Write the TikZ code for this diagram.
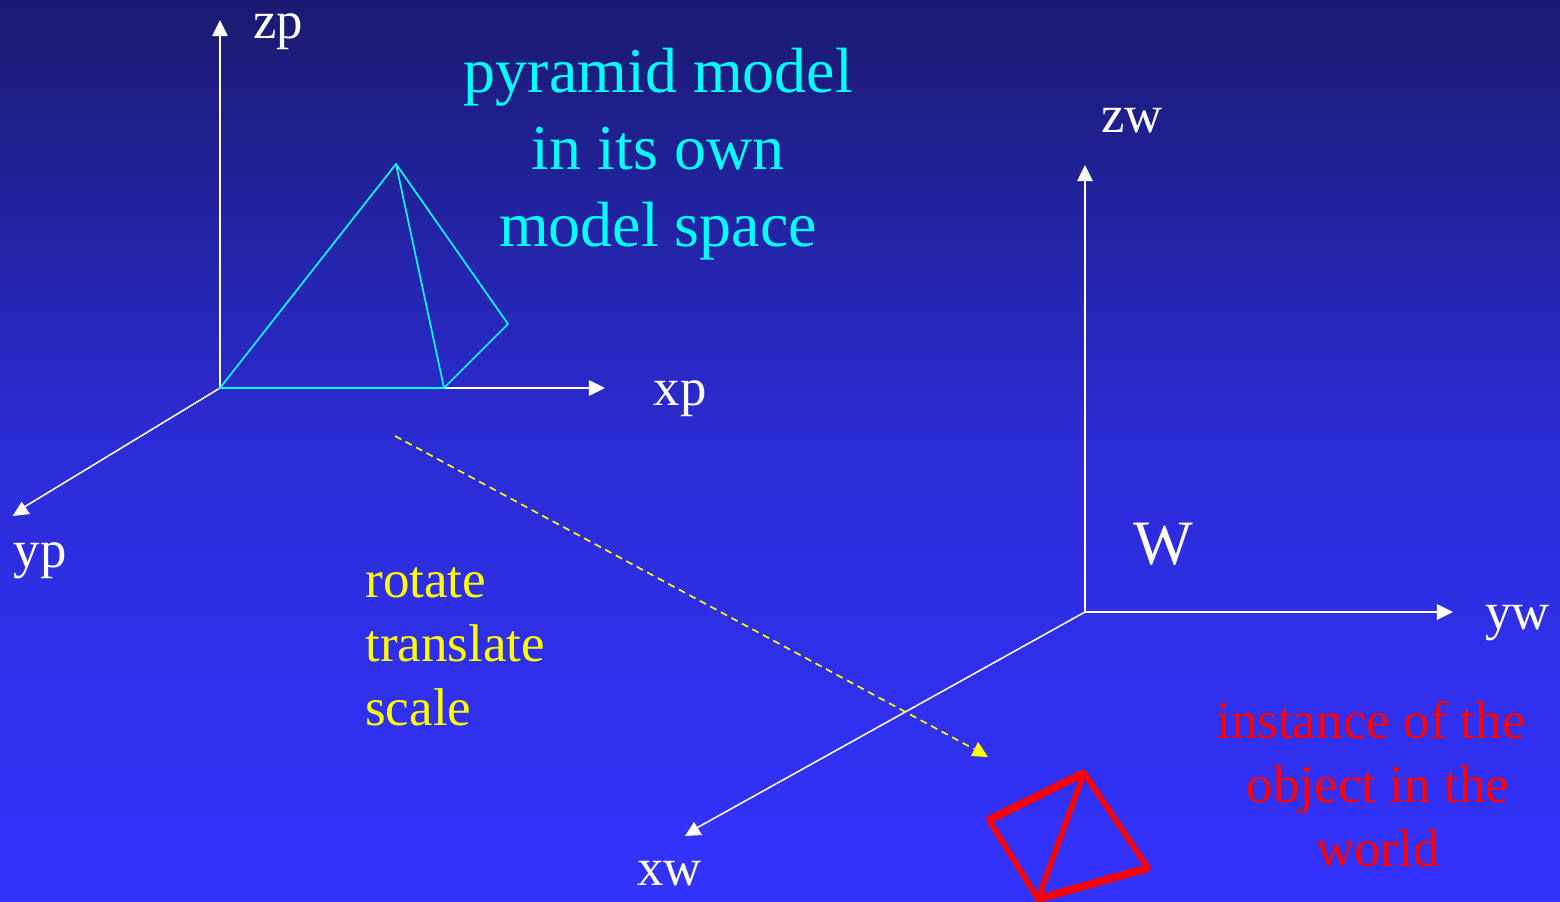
\documentclass[tikz,border=0pt]{standalone}
\usepackage{fontspec}
\setmainfont{Liberation Serif}
\usetikzlibrary{arrows.meta}
\definecolor{bgtop}{RGB}{26,26,112}
\definecolor{bgmid}{RGB}{44,44,215}
\definecolor{bgbot}{RGB}{51,51,255}
\definecolor{cyn}{RGB}{0,255,255}
\definecolor{yel}{RGB}{255,255,0}
\definecolor{rd}{RGB}{255,0,0}
\tikzset{
  x=0.05cm,y=-0.05cm,
  axis/.style={draw=white,line width=2.2pt,-{Triangle[length=23pt,width=22pt]}},
  axisplain/.style={draw=white,line width=2.2pt},
  wlabel/.style={text=white,font=\fontsize{75}{80}\selectfont,inner sep=0pt,anchor=base},
  pyr/.style={draw=cyn,line width=2.4pt},
  inst/.style={draw=rd,line width=11pt},
  instthin/.style={draw=rd,line width=8pt,line cap=round},
  ylabel/.style={text=yel,font=\fontsize{75.5}{80}\selectfont,inner sep=0pt,anchor=base west},
  rlabel/.style={text=rd,font=\fontsize{75.5}{80}\selectfont,inner sep=0pt,anchor=base},
  clabel/.style={text=cyn,font=\fontsize{91}{96}\selectfont,inner sep=0pt,anchor=base},
}
\begin{document}
\begin{tikzpicture}
\useasboundingbox (0,0) rectangle (1560,902);
\shade[top color=bgtop,bottom color=bgbot,middle color=bgmid] (0,0) rectangle (1560,902);
\coordinate (po) at (220,388);
\coordinate (pz) at (220,20);
\coordinate (px) at (605,388);
\coordinate (py) at (21,509);
\coordinate (pya) at (21.7,501.7);
\coordinate (pyb) at (12.7,516);
\coordinate (pyc) at (30,514);
\coordinate (wo) at (1085,612);
\coordinate (wz) at (1085,165);
\coordinate (wy) at (1453,612);
\coordinate (wx) at (693,830);
\coordinate (wxa) at (694,822);
\coordinate (wxb) at (685,836);
\coordinate (wxc) at (702,835);
\coordinate (apex) at (396,164);
\coordinate (b1) at (444,388);
\coordinate (b2) at (508,324);
\coordinate (ds) at (395,436);
\coordinate (de) at (974,749);
\coordinate (ah1) at (978,742);
\coordinate (ah2) at (971,756);
\coordinate (ah3) at (988,757);
\coordinate (r1) at (1084,773);
\coordinate (r2) at (989,820);
\coordinate (r3) at (1038,899);
\coordinate (r4) at (1148,868);
\draw[axis] (po)--(pz);
\draw[axis] (po)--(px);
\draw[axisplain] (po)--(py);
\fill[white] (pya)--(pyb)--(pyc)--cycle;
\draw[axis] (wo)--(wz);
\draw[axis] (wo)--(wy);
\draw[axisplain] (wo)--(wx);
\fill[white] (wxa)--(wxb)--(wxc)--cycle;
\draw[pyr,line join=miter] (po)--(apex)--(b2)--(b1)--cycle;
\draw[pyr] (apex)--(b1);
\draw[draw=yel,line width=2.4pt,dash pattern=on 10pt off 7pt] (ds)--(de);
\fill[yel] (ah1)--(ah2)--(ah3)--cycle;
\draw[instthin] (r2)--(r3);
\draw[instthin] (r1)--(r4);
\draw[instthin] (r1)--(r3);
\draw[inst] (r1)--(r2);
\draw[inst] (r3)--(r4);
\node[wlabel] (lzp) at (278,39) {zp};
\node[wlabel] (lxp) at (680,405) {xp};
\node[wlabel] (lyp) at (40,567) {yp};
\node[wlabel] (lzw) at (1132,133) {zw};
\node[wlabel] (lyw) at (1517.5,629) {yw};
\node[wlabel] (lxw) at (669.5,885) {xw};
\node[text=white,font=\fontsize{90}{96}\selectfont,inner sep=0pt,anchor=base] (lW) at (1163.5,564) {W};
\node[clabel] (c1) at (658.5,93) {pyramid model};
\node[clabel] (c2) at (658,170) {in its own};
\node[clabel] (c3) at (658,246) {model space};
\node[ylabel] (y1) at (365.2,597) {rotate};
\node[ylabel] (y2) at (365.2,661) {translate};
\node[ylabel] (y3) at (365.2,725) {scale};
\node[rlabel] (r1l) at (1371,738) {instance of the};
\node[rlabel] (r2l) at (1378,802) {object in the};
\node[rlabel] (r3l) at (1378,866) {world};
\end{tikzpicture}
\end{document}
